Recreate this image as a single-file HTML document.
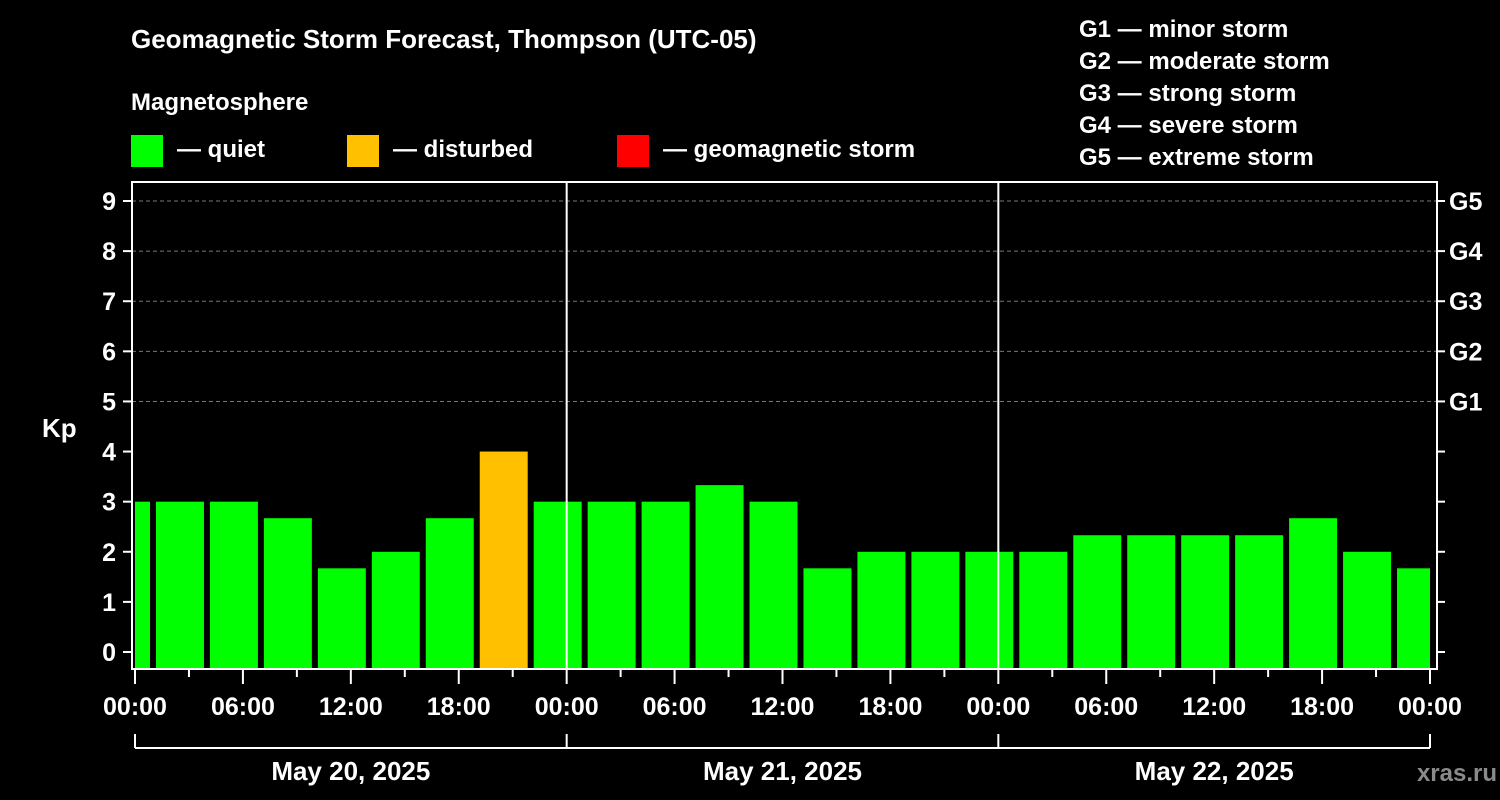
<!DOCTYPE html>
<html><head><meta charset="utf-8"><style>
body{margin:0;background:#000;width:1500px;height:800px;overflow:hidden}
svg{display:block}
text{font-family:"Liberation Sans",Arial,sans-serif;font-weight:bold;fill:#fff}
</style></head><body>
<svg id="c" width="1500" height="800">
<text x="131" y="48" font-size="26">Geomagnetic Storm Forecast, Thompson (UTC-05)</text>
<text x="131" y="110" font-size="24">Magnetosphere</text>
<g><rect x="131" y="135" width="32" height="32" fill="#00ff00"/><text x="177" y="157" font-size="24">— quiet</text></g>
<g><rect x="347" y="135" width="32" height="32" fill="#ffc000"/><text x="393" y="157" font-size="24">— disturbed</text></g>
<g><rect x="617" y="135" width="32" height="32" fill="#ff0000"/><text x="663" y="157" font-size="24">— geomagnetic storm</text></g>
<g font-size="24">
<text x="1079" y="37" font-size="24">G1 — minor storm</text>
<text x="1079" y="69" font-size="24">G2 — moderate storm</text>
<text x="1079" y="101" font-size="24">G3 — strong storm</text>
<text x="1079" y="133" font-size="24">G4 — severe storm</text>
<text x="1079" y="165" font-size="24">G5 — extreme storm</text>
</g>
<text x="42" y="437" font-size="26">Kp</text>
<text x="1497" y="781" font-size="24" text-anchor="end" style="fill:#8a8a8a">xras.ru</text>
<g id="plot"></g>
</svg>
<script>
const kpValues=[3,3,3,2.67,1.67,2,2.67,4,3,3,3,3.33,3,1.67,2,2,2,2,2.33,2.33,2.33,2.33,2.67,2,1.67];
const startHour=-2;
const xTickLabels=["00:00","06:00","12:00","18:00","00:00","06:00","12:00","18:00","00:00","06:00","12:00","18:00","00:00"];
const dayLabels=["May 20, 2025","May 21, 2025","May 22, 2025"];
const gLabels=["G1","G2","G3","G4","G5"];
const L=132,R=1437,T=182,B=669;
const X=h=>135+h*(1430-135)/72;
const Y=v=>652-v*(652-201)/9;
const NS="http://www.w3.org/2000/svg";
const g=document.getElementById('plot');
function mk(t,a,p){const e=document.createElementNS(NS,t);for(const k in a)e.setAttribute(k,a[k]);(p||g).appendChild(e);return e;}
// grid
for(let v=5;v<=9;v++){const l=mk('line',{x1:L,x2:R,y1:Y(v),y2:Y(v),stroke:'#777','stroke-dasharray':'4,3','stroke-width':1});

}
// bars
kpValues.forEach((v,i)=>{let h0=startHour+3*i;let x0=Math.max(X(h0)+3,135),x1=Math.min(X(h0+3)-3,1430);
const col=v>=5?'#ff0000':(v>=4?'#ffc000':'#00ff00');
const r=mk('rect',{x:x0,y:Y(v),width:x1-x0,height:B-1-Y(v),fill:col});

});
// day separators
[1,2].forEach(d=>{const l=mk('line',{x1:X(24*d),x2:X(24*d),y1:T,y2:B,stroke:'#fff','stroke-width':2});

});
// frame
const f=mk('rect',{x:L,y:T,width:R-L,height:B-T,fill:'none',stroke:'#fff','stroke-width':2});


// y ticks
for(let v=0;v<=9;v++){mk('line',{x1:L-9,x2:L,y1:Y(v),y2:Y(v),stroke:'#fff','stroke-width':2});
mk('line',{x1:R,x2:R+8,y1:Y(v),y2:Y(v),stroke:'#fff','stroke-width':2});
const t=mk('text',{x:116,y:Y(v)+9,'font-size':25,'text-anchor':'end'});t.textContent=v;

}
gLabels.forEach((s,i)=>{const t=mk('text',{x:1449,y:Y(5+i)+9,'font-size':25});t.textContent=s;

});
// x ticks
for(let h=0;h<=72;h+=3){const maj=h%6==0;mk('line',{x1:X(h),x2:X(h),y1:B,y2:B+(maj?15:8),stroke:'#fff','stroke-width':2});}
xTickLabels.forEach((s,i)=>{const t=mk('text',{x:X(6*i),y:715,'font-size':25,'text-anchor':'middle'});t.textContent=s;

});
// day bracket
mk('line',{x1:X(0),x2:X(72),y1:748,y2:748,stroke:'#fff','stroke-width':2});
for(let d=0;d<=3;d++)mk('line',{x1:X(24*d),x2:X(24*d),y1:734,y2:748,stroke:'#fff','stroke-width':2});
dayLabels.forEach((s,i)=>{const t=mk('text',{x:X(24*i+12),y:780,'font-size':26,'text-anchor':'middle'});t.textContent=s;

});
</script>
</body></html>
